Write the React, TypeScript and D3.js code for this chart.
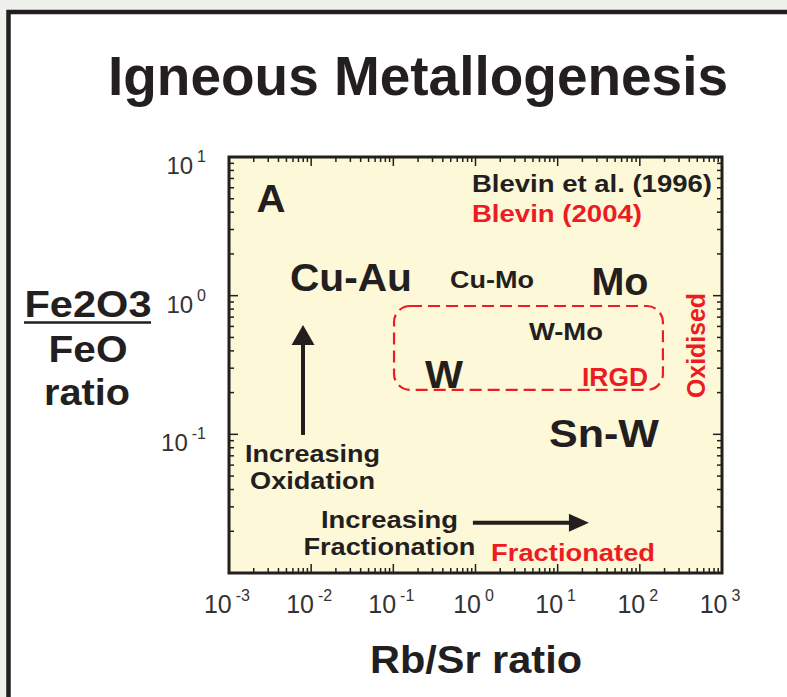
import React from "react";
import * as d3 from "d3";

// ---- data ----
const xDomain: [number, number] = [1e-3, 1e3];
const yDomain: [number, number] = [1e-2, 1e1];
const xTickExponents = [-3, -2, -1, 0, 1, 2, 3];
const yTickExponents = [-1, 0, 1];

const titleText = "Igneous Metallogenesis";
const xAxisTitle = "Rb/Sr ratio";
const yAxisTitleLines = ["Fe2O3", "FeO", "ratio"];

// annotations in data coordinates (Rb/Sr, Fe2O3/FeO)
const blackLabels = [
  { text: "A", x: 0.00324, y: 4.0, size: 38, width: 29, anchor: "middle" },
  { text: "Blevin et al. (1996)", x: 0.906, y: 5.59, size: 24, width: 240, anchor: "start" },
  { text: "Cu-Au", x: 0.0305, y: 1.08, size: 38, width: 122, anchor: "middle" },
  { text: "Cu-Mo", x: 1.59, y: 1.135, size: 23, width: 84, anchor: "middle" },
  { text: "Mo", x: 57.3, y: 1.01, size: 38, width: 57, anchor: "middle" },
  { text: "W-Mo", x: 12.6, y: 0.479, size: 23, width: 74, anchor: "middle" },
  { text: "W", x: 0.414, y: 0.216, size: 38, width: 38, anchor: "middle" },
  { text: "Sn-W", x: 36.6, y: 0.081, size: 38, width: 110, anchor: "middle" },
  { text: "Increasing", x: 0.0104, y: 0.0632, size: 24, width: 135, anchor: "middle" },
  { text: "Oxidation", x: 0.0104, y: 0.0404, size: 24, width: 125, anchor: "middle" },
  { text: "Increasing", x: 0.0897, y: 0.0211, size: 24, width: 137, anchor: "middle" },
  { text: "Fractionation", x: 0.0897, y: 0.0135, size: 24, width: 172, anchor: "middle" },
];
const redLabels = [
  { text: "Blevin (2004)", x: 0.906, y: 3.4, size: 24, width: 170, anchor: "start" },
  { text: "IRGD", x: 49.9, y: 0.223, size: 26, width: 66, anchor: "middle" },
  { text: "Fractionated", x: 15.4, y: 0.0122, size: 24, width: 164, anchor: "middle" },
];
const oxidisedLabel = { text: "Oxidised", x: 621, y: 0.437, size: 25, width: 105 };

const irgdBox = { x0: 0.102, x1: 191, y0: 0.209, y1: 0.842 };
const upArrow = { x: 0.00796, y0: 0.099, y1: 0.615 };
const rightArrow = { y: 0.023, x0: 0.93, x1: 24.0 };

// ---- layout ----
const W = 787;
const H = 697;
const plot = { left: 229, right: 722, top: 157, bottom: 573 };
const INK = "#231f20";
const RED = "#ed1c24";
const FONT = "'Liberation Sans', Arial, Helvetica, sans-serif";

export default function App() {
  const x = d3.scaleLog().domain(xDomain).range([plot.left, plot.right]);
  const y = d3.scaleLog().domain(yDomain).range([plot.bottom, plot.top]);

  const xTicks = x.ticks();
  const yTicks = y.ticks();
  const isMajor = (v: number) => Math.abs(Math.log10(v) - Math.round(Math.log10(v))) < 1e-6;
  const majLen = 9;
  const minLen = 5;

  const upX = x(upArrow.x);
  const upTip = y(upArrow.y1);
  const upBase = y(upArrow.y0);
  const rY = y(rightArrow.y);
  const rTip = x(rightArrow.x1);
  const rBase = x(rightArrow.x0);

  return (
    <svg
      width={W}
      height={H}
      style={{ position: "absolute", left: 0, top: 0, display: "block" }}
      fontFamily={FONT}
    >
      <rect x={0} y={0} width={W} height={H} fill="#eff1ec" />
      <rect x={8.5} y={12} width={W + 100} height={H + 100} fill="#ffffff" stroke={INK} strokeWidth={4.5} />

      {/* title */}
      <text
        x={108}
        y={95}
        fontSize={56}
        fontWeight="bold"
        fill={INK}
        textLength={620}
        lengthAdjust="spacingAndGlyphs"
      >
        {titleText}
      </text>

      {/* plot background */}
      <rect
        x={plot.left}
        y={plot.top}
        width={plot.right - plot.left}
        height={plot.bottom - plot.top}
        fill="#fdf8d7"
      />

      {/* ticks */}
      <g stroke={INK} strokeWidth={1.5}>
        {xTicks.map((t, i) => {
          const px = x(t);
          const L = isMajor(t) ? majLen : minLen;
          return (
            <g key={"xt" + i}>
              <line x1={px} x2={px} y1={plot.bottom} y2={plot.bottom - L} />
              <line x1={px} x2={px} y1={plot.top} y2={plot.top + L} />
            </g>
          );
        })}
        {yTicks.map((t, i) => {
          const py = y(t);
          const L = isMajor(t) ? majLen : minLen;
          return (
            <g key={"yt" + i}>
              <line x1={plot.left} x2={plot.left + L} y1={py} y2={py} />
              <line x1={plot.right} x2={plot.right - L} y1={py} y2={py} />
            </g>
          );
        })}
      </g>

      {/* frame */}
      <rect
        x={plot.left}
        y={plot.top}
        width={plot.right - plot.left}
        height={plot.bottom - plot.top}
        fill="none"
        stroke={INK}
        strokeWidth={3}
      />

      {/* x tick labels */}
      {xTickExponents.map((e) => (
        <text
          key={"xl" + e}
          x={x(Math.pow(10, e)) - 2}
          y={613}
          fontSize={25}
          fill="#333333"
          textAnchor="middle"
        >
          10
          <tspan dx={4} dy={-12} fontSize={16}>
            {String(e)}
          </tspan>
        </text>
      ))}

      {/* y tick labels */}
      {yTickExponents.map((e) => (
        <text
          key={"yl" + e}
          x={206}
          y={y(Math.pow(10, e)) + 17}
          fontSize={24}
          fill="#333333"
          textAnchor="end"
        >
          10
          <tspan dx={4} dy={-12} fontSize={16}>
            {String(e)}
          </tspan>
        </text>
      ))}

      {/* axis titles */}
      <text
        x={476}
        y={673}
        fontSize={39}
        fontWeight="bold"
        fill={INK}
        textAnchor="middle"
        textLength={212}
        lengthAdjust="spacingAndGlyphs"
      >
        {xAxisTitle}
      </text>
      <text x={88} y={317} fontSize={36} fontWeight="bold" fill={INK} textAnchor="middle" textLength={127} lengthAdjust="spacingAndGlyphs">
        {yAxisTitleLines[0]}
      </text>
      <line x1={24} x2={151} y1={322.5} y2={322.5} stroke={INK} strokeWidth={2.5} />
      <text x={88} y={362} fontSize={36} fontWeight="bold" fill={INK} textAnchor="middle" textLength={79} lengthAdjust="spacingAndGlyphs">
        {yAxisTitleLines[1]}
      </text>
      <text x={87} y={405} fontSize={36} fontWeight="bold" fill={INK} textAnchor="middle" textLength={86} lengthAdjust="spacingAndGlyphs">
        {yAxisTitleLines[2]}
      </text>

      {/* IRGD dashed box */}
      <rect
        x={x(irgdBox.x0)}
        y={y(irgdBox.y1)}
        width={x(irgdBox.x1) - x(irgdBox.x0)}
        height={y(irgdBox.y0) - y(irgdBox.y1)}
        rx={16}
        ry={16}
        fill="none"
        stroke={RED}
        strokeWidth={2.2}
        strokeDasharray="12 6"
      />

      {/* annotations */}
      {blackLabels.map((l, i) => (
        <text
          key={"bl" + i}
          x={x(l.x)}
          y={y(l.y)}
          fontSize={l.size}
          fontWeight="bold"
          fill={INK}
          textAnchor={l.anchor as any}
          textLength={l.width}
          lengthAdjust="spacingAndGlyphs"
        >
          {l.text}
        </text>
      ))}
      {redLabels.map((l, i) => (
        <text
          key={"rl" + i}
          x={x(l.x)}
          y={y(l.y)}
          fontSize={l.size}
          fontWeight="bold"
          fill={RED}
          textAnchor={l.anchor as any}
          textLength={l.width}
          lengthAdjust="spacingAndGlyphs"
        >
          {l.text}
        </text>
      ))}
      <text
        transform={`translate(${x(oxidisedLabel.x)},${y(oxidisedLabel.y)}) rotate(-90)`}
        fontSize={oxidisedLabel.size}
        fontWeight="bold"
        fill={RED}
        textAnchor="middle"
        textLength={oxidisedLabel.width}
        lengthAdjust="spacingAndGlyphs"
      >
        {oxidisedLabel.text}
      </text>

      {/* arrows */}
      <line x1={upX} x2={upX} y1={upBase} y2={upTip + 18} stroke={INK} strokeWidth={4} />
      <path d={`M${upX},${upTip} L${upX - 11.5},${upTip + 20} L${upX + 11.5},${upTip + 20} Z`} fill={INK} />
      <line x1={rBase} x2={rTip - 18} y1={rY} y2={rY} stroke={INK} strokeWidth={4} />
      <path d={`M${rTip},${rY} L${rTip - 20},${rY - 9} L${rTip - 20},${rY + 9} Z`} fill={INK} />
    </svg>
  );
}
